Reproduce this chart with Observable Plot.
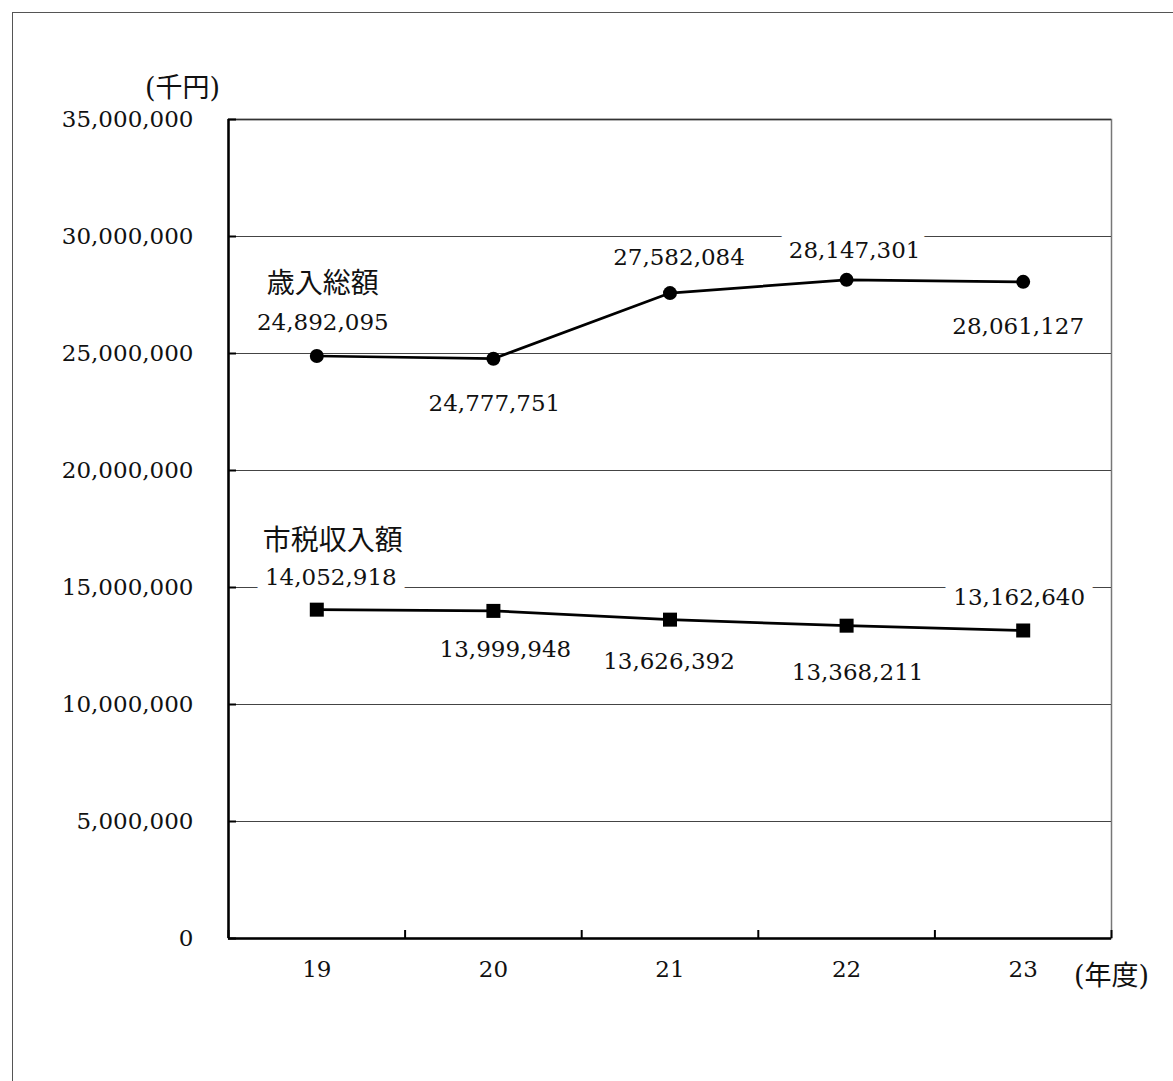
<!DOCTYPE html>
<html>
<head>
<meta charset="utf-8">
<script src="https://cdn.jsdelivr.net/npm/d3@7"></script>
<script src="https://cdn.jsdelivr.net/npm/@observablehq/plot@0.6"></script>
<style>
  html, body { margin: 0; padding: 0; background: #fff; }
  #outer { position: absolute; left: 12px; top: 12px; width: 1200px; height: 1100px;
           border-left: 1px solid #555; border-top: 1px solid #555; box-sizing: border-box; }
  #chart { position: absolute; left: 0; top: 0; }
</style>
</head>
<body>
<div id="outer"></div>
<div id="chart"></div>
<script>
// ---- data ----
const years = [19, 20, 21, 22, 23];
const totalRevenue = [24892095, 24777751, 27582084, 28147301, 28061127]; // 歳入総額
const cityTax = [14052918, 13999948, 13626392, 13368211, 13162640];      // 市税収入額
const seriesNames = ["歳入総額", "市税収入額"];
const yTicks = [0, 5000000, 10000000, 15000000, 20000000, 25000000, 30000000, 35000000];
const yUnit = "(千円)";
const xUnit = "(年度)";

// ---- label layout (offsets in px, not data) ----
const totalLabelOffsets = [[6, -33], [1, 45], [9, -35], [8, -29], [-5, 45]];
const taxLabelOffsets = [[14, -32], [12, 39], [-1, 42], [11, 47], [-4, -33]];

const fmt = d3.format(",");
const total = years.map((y, i) => ({year: y, value: totalRevenue[i]}));
const tax = years.map((y, i) => ({year: y, value: cityTax[i]}));

const numFont = "'DejaVu Serif', 'Noto Sans CJK JP', serif";
const jpFont = "'DejaVu Serif', 'Noto Sans CJK JP', sans-serif";

function valueLabels(data, offsets) {
  return data.map((d, i) => Plot.text([d], {
    x: "year", y: "value", text: d => fmt(d.value),
    dx: offsets[i][0], dy: offsets[i][1],
    fill: "#111", stroke: "white", strokeWidth: 22, strokeLinejoin: "round",
    fontSize: 23, fontFamily: numFont
  }));
}

const chart = Plot.plot({
  width: 1173,
  height: 1081,
  marginLeft: 228,
  marginRight: 62,
  marginTop: 119,
  marginBottom: 143,
  style: {fontFamily: numFont, fontSize: "23px", background: "transparent", color: "#111"},
  x: {type: "linear", domain: [18.5, 23.5]},
  y: {domain: [0, 35000000]},
  marks: [
    Plot.frame({stroke: "#777", strokeWidth: 1.5}),
    Plot.gridY(yTicks.filter(d => d > 0 && d < 35000000), {stroke: "#444", strokeOpacity: 1, strokeWidth: 1}),
    Plot.ruleY([35000000], {stroke: "#333", strokeWidth: 1.5}),
    // boundary ticks on x axis (pointing inward)
    Plot.axisX(d3.range(18.5, 24, 1), {tickSize: -8, tickFormat: () => "", stroke: "#000", strokeWidth: 2, label: null}),
    // x tick labels
    Plot.axisX(years, {tickSize: 0, tickPadding: 22, tickFormat: d => String(d), fontSize: 23, fill: "#111", label: null}),
    // y ticks pointing inward
    Plot.axisY(yTicks, {tickSize: -8, tickFormat: () => "", stroke: "#000", strokeWidth: 2, label: null}),
    // y tick labels
    Plot.axisY(yTicks, {tickSize: 0, tickPadding: 35, tickFormat: fmt, fontSize: 23, fill: "#111", label: null}),
    Plot.ruleX([18.5], {stroke: "#000", strokeWidth: 2.5}),
    Plot.ruleY([0], {stroke: "#000", strokeWidth: 2.5}),
    // unit labels
    Plot.text([yUnit], {frameAnchor: "top-left", text: d => d, dx: -46, dy: -42, textAnchor: "middle", fontSize: 27, fontFamily: jpFont, fill: "#111"}),
    Plot.text([xUnit], {frameAnchor: "bottom-right", text: d => d, dx: 0, dy: 46, textAnchor: "middle", fontSize: 27, fontFamily: jpFont, fill: "#111"}),
    // value labels
    ...valueLabels(total, totalLabelOffsets),
    ...valueLabels(tax, taxLabelOffsets),
    // series names
    Plot.text([total[0]], {x: "year", y: "value", text: () => seriesNames[0], dx: 6, dy: -72, fontSize: 28, fontFamily: "'Noto Sans CJK JP', sans-serif", fill: "#111"}),
    Plot.text([tax[0]], {x: "year", y: "value", text: () => seriesNames[1], dx: 16, dy: -69, fontSize: 28, fontFamily: "'Noto Sans CJK JP', sans-serif", fill: "#111"}),
    // lines
    Plot.line(total, {x: "year", y: "value", stroke: "#000", strokeWidth: 2.7}),
    Plot.line(tax, {x: "year", y: "value", stroke: "#000", strokeWidth: 2.7}),
    Plot.dot(total, {x: "year", y: "value", r: 7, fill: "#000", symbol: "circle"}),
    Plot.dot(tax, {x: "year", y: "value", r: 7.9, fill: "#000", symbol: "square"})
  ]
});
document.getElementById("chart").appendChild(chart);
</script>
</body>
</html>
